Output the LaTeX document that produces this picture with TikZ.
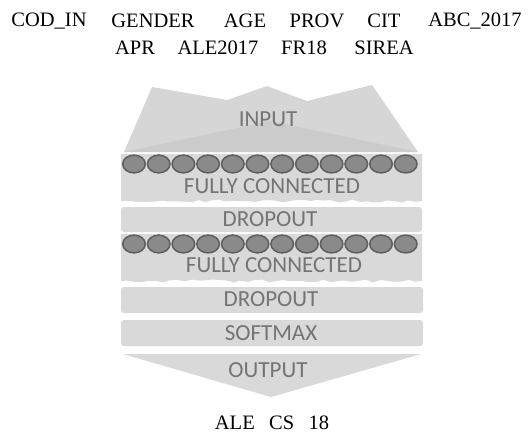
\documentclass[tikz,border=0pt]{standalone}
\usepackage{fontspec}
\setmainfont{Liberation Serif}
\newfontfamily\layerfont{Carlito}
\usetikzlibrary{decorations.pathmorphing}
\definecolor{bandgray}{HTML}{D9D9D9}
\definecolor{inputgray}{HTML}{D6D6D6}
\definecolor{shadegray}{HTML}{C4C4C4}
\definecolor{labelgray}{HTML}{747474}
\definecolor{neurongray}{HTML}{8A8A8A}
\definecolor{neuronedge}{HTML}{5E5E5E}

\begin{document}
\begin{tikzpicture}[x=1pt, y=-1pt,
    varname/.style={font=\fontsize{20.5}{24}\selectfont, inner sep=0pt},
    layername/.style={font=\layerfont\fontsize{23}{27}\selectfont, text=labelgray, inner sep=0pt},
    neuron/.style={fill=neurongray, draw=neuronedge, line width=1.5pt},
    band/.style={fill=bandgray},
    wavy/.style={decoration={random steps, segment length=7pt, amplitude=1.5pt}}]
  \useasboundingbox (0,0) rectangle (532,434);

  % Input variables
  \node[varname] (codin)  at (49,21)  {COD\_IN};
  \node[varname] (gender) at (153,21) {GENDER};
  \node[varname] (age)    at (245,21) {AGE};
  \node[varname] (prov)   at (317,21) {PROV};
  \node[varname] (cit)    at (384,21) {CIT};
  \node[varname] (abc)    at (475,21) {ABC\_2017};
  \node[varname] (apr)    at (135,48) {APR};
  \node[varname] (ale)    at (218,48) {ALE2017};
  \node[varname] (fr)     at (304,48) {FR18};
  \node[varname] (sirea)  at (384,48) {SIREA};

  % Input block with jagged top
  \fill[inputgray] (124,152) -- (152,87) -- (227,100) -- (267,86) -- (307,101) -- (372,85) -- (418,152) -- cycle;
  \fill[shadegray, opacity=0.6] (124,152) -- (270,121) -- (418,152) -- cycle;
  \node[layername] (input) at (268,119) {INPUT};

  % First fully connected layer
  \fill[band] (121,154) -- (121,201) decorate[wavy] {-- (422,201)} -- (422,154) -- cycle;
  \foreach \i in {0,...,11}
    \filldraw[neuron] ({134+24.7*\i},164) ellipse (11.3 and 8.9);
  \node[layername] (fc1) at (272,186) {FULLY CONNECTED};

  % Dropout
  \fill[band, rounded corners=3] (121,207) rectangle (422,232);
  \node[layername] (drop1) at (270,219.5) {DROPOUT};

  % Second fully connected layer
  \fill[band] (121,234) -- (121,281) decorate[wavy] {-- (422,281)} -- (422,234) -- cycle;
  \foreach \i in {0,...,11}
    \filldraw[neuron] ({134+24.7*\i},244) ellipse (11.3 and 8.9);
  \node[layername] (fc2) at (274,265) {FULLY CONNECTED};

  % Dropout and softmax
  \fill[band, rounded corners=3] (121,287) rectangle (423,313);
  \node[layername] (drop2) at (271,299) {DROPOUT};
  \fill[band, rounded corners=3] (121,320) rectangle (423,346);
  \node[layername] (softmax) at (271,333) {SOFTMAX};

  % Output chevron
  \fill[band] (123,354) -- (421,354) -- (271,397) -- cycle;
  \node[layername] (output) at (268,370) {OUTPUT};

  % Target variable
  \node[varname] (target) at (272,423) {ALE\hspace{0.7em}CS\hspace{0.7em}18};
\end{tikzpicture}
\end{document}
